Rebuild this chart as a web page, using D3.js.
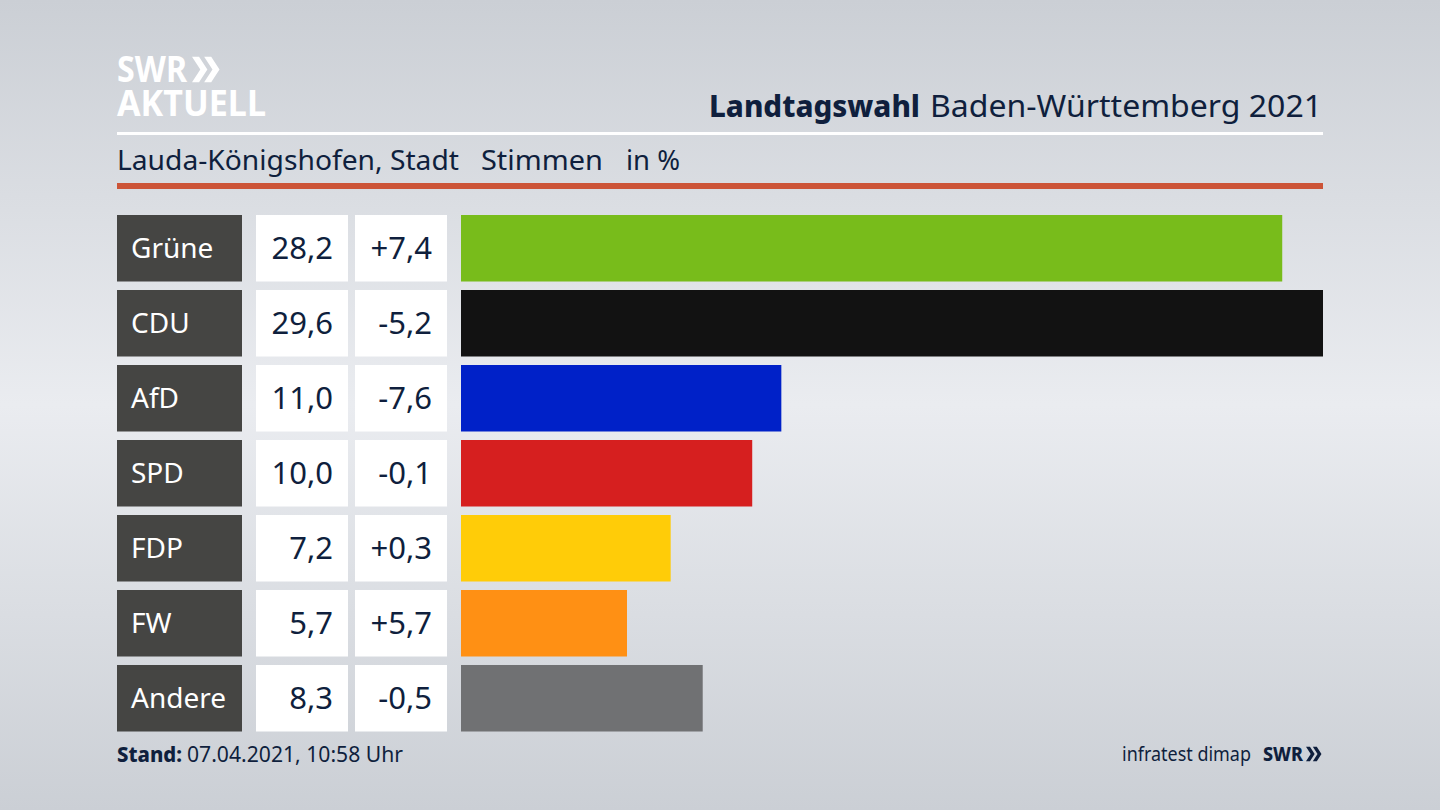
<!DOCTYPE html>
<html>
<head>
<meta charset="UTF-8" />
<title>Landtagswahl Baden-Württemberg 2021</title>
<style>
    html, body { margin: 0; padding: 0; background: #d5d8de; }
    svg { display: block; }
    text { font-family: "Noto Sans", "Open Sans", sans-serif; }
</style>
</head>
<body>
<script src="https://cdn.jsdelivr.net/npm/d3@7"></script>
<script>
// Werte
const parties = ["Grüne", "CDU", "AfD", "SPD", "FDP", "FW", "Andere"];
const shares = [28.2, 29.6, 11.0, 10.0, 7.2, 5.7, 8.3];
const changes = [7.4, -5.2, -7.6, -0.1, 0.3, 5.7, -0.5];
const barColors = ["#78bc1b", "#121212", "#0021c8", "#d61f1f", "#ffcc08", "#ff9014", "#707173"];

const NAVY = "#0f1f3d";
const width = 1440, height = 810;

const svg = d3.select("body").append("svg").attr("width", width).attr("height", height);

// background
const defs = svg.append("defs");
const bg = defs.append("linearGradient").attr("id", "bg")
    .attr("x1", 0).attr("y1", 0).attr("x2", 0).attr("y2", 1);
bg.append("stop").attr("offset", "0%").attr("stop-color", "#cbcfd5");
bg.append("stop").attr("offset", "50%").attr("stop-color", "#eaecf0");
bg.append("stop").attr("offset", "100%").attr("stop-color", "#cbcfd5");
svg.append("rect").attr("width", width).attr("height", height).attr("fill", "url(#bg)");

// scales
const x = d3.scaleLinear().domain([0, d3.max(shares)]).range([461, 1323]);
const y = d3.scaleBand().domain(parties).range([215, 731.5]).paddingInner(0.1133);
const fmt = v => v.toFixed(1).replace(".", ",");
const fmtDiff = v => (v > 0 ? "+" : "") + fmt(v);

// text squeezed to the width it has in the picture
function label(px, py, t, size, color, weight, len) {
    const el = svg.append("text").attr("x", px).attr("y", py).text(t)
        .attr("fill", color).attr("font-size", size).attr("font-weight", weight);
    if (len) el.attr("textLength", len).attr("lengthAdjust", "spacingAndGlyphs");
    return el;
}

function chevrons(cx, cy, s, color) {
    const d = d3.path();
    [0, 1].forEach(i => {
        const o = i * s * 0.95;
        d.moveTo(cx + o, cy - s);
        d.lineTo(cx + o + s * 0.55, cy - s);
        d.lineTo(cx + o + s * 1.2, cy);
        d.lineTo(cx + o + s * 0.55, cy + s);
        d.lineTo(cx + o, cy + s);
        d.lineTo(cx + o + s * 0.65, cy);
        d.closePath();
    });
    svg.append("path").attr("d", d.toString()).attr("fill", color);
}

// header
label(117, 82, "SWR", 36, "#fff", 700, 70);
chevrons(192, 69.5, 12.8, "#fff");
label(117, 116, "AKTUELL", 36, "#fff", 700, 149);

label(709, 117, "Landtagswahl", 31, NAVY, 800, 211);
label(930, 117, "Baden-Württemberg 2021", 31, NAVY, 400, 392);

svg.append("rect").attr("x", 117).attr("y", 132).attr("width", 1206).attr("height", 3).attr("fill", "#fff");
svg.append("rect").attr("x", 117).attr("y", 183).attr("width", 1206).attr("height", 6).attr("fill", "#cc5438");

label(117, 170, "Lauda-Königshofen, Stadt", 28, NAVY, 400, 342);
label(481, 170, "Stimmen", 28, NAVY, 400, 122);
label(626, 170, "in %", 28, NAVY, 400, 54);

// rows
const rows = svg.selectAll("g.row").data(parties).join("g").attr("class", "row");

rows.append("rect").attr("x", 117).attr("width", 125)
    .attr("y", d => y(d)).attr("height", y.bandwidth()).attr("fill", "#454543");
rows.append("text").attr("x", 131).attr("y", d => y(d) + y.bandwidth() / 2 + 10)
    .text(d => d).attr("fill", "#fff").attr("font-size", 28);

rows.append("rect").attr("x", 256).attr("width", 92)
    .attr("y", d => y(d)).attr("height", y.bandwidth()).attr("fill", "#fff");
rows.append("text").attr("x", 333).attr("y", d => y(d) + y.bandwidth() / 2 + 11)
    .attr("text-anchor", "end").attr("fill", NAVY).attr("font-size", 31)
    .text((d, i) => fmt(shares[i]));

rows.append("rect").attr("x", 355).attr("width", 92)
    .attr("y", d => y(d)).attr("height", y.bandwidth()).attr("fill", "#fff");
rows.append("text").attr("x", 432).attr("y", d => y(d) + y.bandwidth() / 2 + 11)
    .attr("text-anchor", "end").attr("fill", NAVY).attr("font-size", 31)
    .text((d, i) => fmtDiff(changes[i]));

rows.append("rect").attr("x", x(0))
    .attr("y", d => y(d)).attr("height", y.bandwidth())
    .attr("width", (d, i) => x(shares[i]) - x(0))
    .attr("fill", (d, i) => barColors[i]);

// footer
label(117, 762, "Stand:", 22, NAVY, 800, 65);
label(187, 762, "07.04.2021, 10:58 Uhr", 22, NAVY, 400, 216);

label(1122, 761, "infratest dimap", 20, NAVY, 400, 129);
label(1263, 761, "SWR", 20, NAVY, 800, 40);
chevrons(1306, 754, 7.2, NAVY);
</script>
</body>
</html>
